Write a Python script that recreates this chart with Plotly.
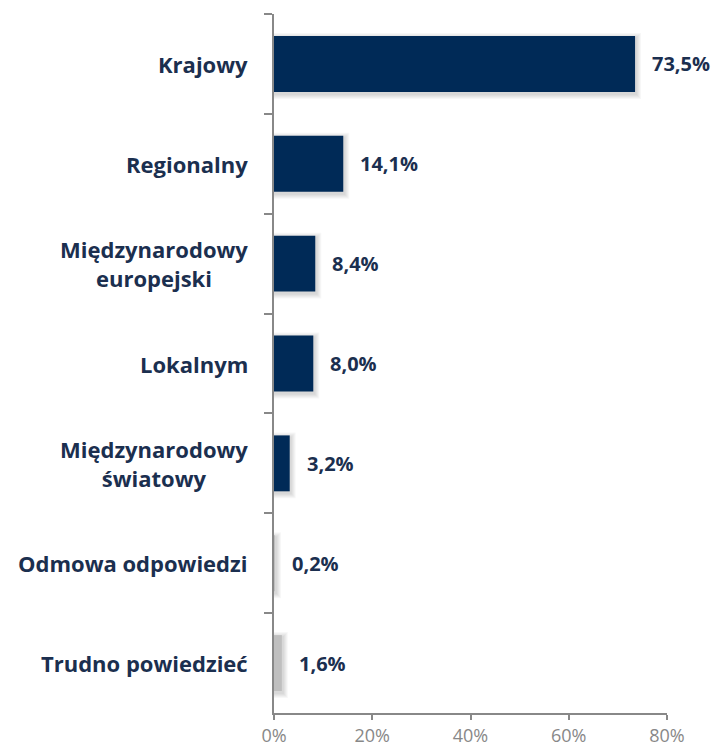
import plotly.graph_objects as go

categories = ["Krajowy", "Regionalny", "Międzynarodowy<br>europejski", "Lokalnym",
              "Międzynarodowy<br>światowy", "Odmowa odpowiedzi", "Trudno powiedzieć"]
values = [73.5, 14.1, 8.4, 8.0, 3.2, 0.2, 1.6]
bar_colors = ["#002A57", "#002A57", "#002A57", "#002A57", "#002A57", "#BFBFBF", "#BFBFBF"]
x_ticks = [0, 20, 40, 60, 80]
x_tick_labels = ["0%", "20%", "40%", "60%", "80%"]

NAVY_TEXT = "#1B2F4F"
FONT = "Open Sans"
BAR_W = 0.56
PX_X = 80 / 393      # one pixel in x data units
PX_Y = 1 / 100       # one pixel in category units

fig = go.Figure()

# soft drop shadow built from a few translucent layers
for s in range(1, 6):
    w = BAR_W + 2 * s * PX_Y
    fig.add_trace(go.Bar(
        y=categories, x=[v + (1 + s) * PX_X for v in values], orientation="h",
        marker=dict(color="rgba(0,0,0,0.03)", line=dict(width=0)),
        width=w, offset=-w / 2 + 2 * PX_Y, hoverinfo="skip",
    ))

fig.add_trace(go.Bar(
    y=categories, x=values, orientation="h",
    marker=dict(color=bar_colors, line=dict(width=0)),
    width=BAR_W, hoverinfo="skip",
))

annotations = []
for c, v in zip(categories, values):
    annotations.append(dict(
        x=v, y=c, xref="x", yref="y", text=f"{v:.1f}%".replace(".", ","),
        showarrow=False, xanchor="left", xshift=15,
        font=dict(family=FONT, size=20, color=NAVY_TEXT, weight="bold"),
    ))
    annotations.append(dict(
        x=0, y=c, xref="paper", yref="y", text=c,
        showarrow=False, xanchor="right", xshift=-24, align="center",
        font=dict(family=FONT, size=22, color=NAVY_TEXT, weight="bold"),
    ))

fig.update_layout(
    width=713, height=746,
    margin=dict(l=274, r=46, t=14, b=33, autoexpand=False),
    plot_bgcolor="white", paper_bgcolor="white",
    showlegend=False, barmode="overlay",
    annotations=annotations,
    xaxis=dict(
        range=[0, 80], tickvals=x_ticks, ticktext=x_tick_labels,
        showgrid=False, zeroline=False, automargin=False,
        showline=True, linecolor="#888888", linewidth=2,
        ticks="outside", ticklen=5, tickcolor="#888888", tickwidth=2,
        tickfont=dict(family=FONT, size=18, color="#888888"),
    ),
    yaxis=dict(
        type="category", autorange="reversed", automargin=False,
        showticklabels=False, showgrid=False, zeroline=False,
        showline=True, linecolor="#888888", linewidth=2,
        ticks="outside", ticklen=8, tickcolor="#888888", tickwidth=2,
        tickson="boundaries",
    ),
)

fig.write_html(
    "out.html",
    config={"displayModeBar": False},
    post_script="document.body.style.margin='0';document.body.style.overflow='hidden';",
)
